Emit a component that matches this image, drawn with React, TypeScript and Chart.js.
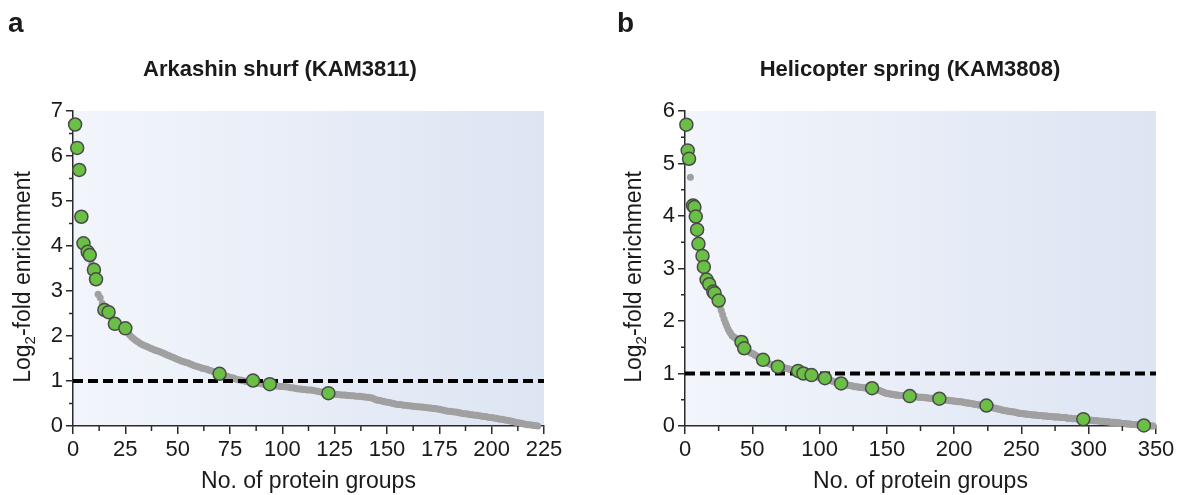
import React, { useEffect, useRef } from "react";
import { Chart, registerables } from "chart.js";

Chart.register(...registerables);

const FONT = "'Liberation Sans', Arial, Helvetica, sans-serif";

// ---------------- Panel a data (Arkashin shurf, KAM3811) ----------------
const grayA: number[] = [
  6.70, 6.18, 5.69, 4.65, 4.06, 3.95, 3.87, 3.80, 3.60, 3.47,
  3.26, 2.93, 2.85, 2.72, 2.58, 2.56, 2.53, 2.45, 2.36, 2.27,
  2.24, 2.22, 2.20, 2.18, 2.17, 2.10, 2.03, 1.98, 1.94, 1.90,
  1.87, 1.84, 1.81, 1.79, 1.77, 1.75, 1.73, 1.71, 1.69, 1.67,
  1.66, 1.64, 1.62, 1.60, 1.58, 1.56, 1.54, 1.52, 1.50, 1.48,
  1.46, 1.44, 1.43, 1.41, 1.40, 1.38, 1.36, 1.34, 1.33, 1.31,
  1.30, 1.28, 1.27, 1.26, 1.24, 1.23, 1.21, 1.20, 1.18, 1.16,
  1.15, 1.13, 1.11, 1.10, 1.08, 1.07, 1.06, 1.04, 1.03, 1.02,
  1.01, 1.00, 0.99, 0.98, 0.98, 0.97, 0.96, 0.95, 0.95, 0.94,
  0.93, 0.92, 0.91, 0.91, 0.90, 0.90, 0.89, 0.89, 0.88, 0.88,
  0.87, 0.87, 0.86, 0.85, 0.85, 0.84, 0.83, 0.82, 0.82, 0.81,
  0.81, 0.80, 0.80, 0.80, 0.79, 0.78, 0.77, 0.76, 0.75, 0.74,
  0.74, 0.73, 0.72, 0.71, 0.71, 0.70, 0.70, 0.69, 0.69, 0.69,
  0.68, 0.68, 0.67, 0.67, 0.66, 0.66, 0.66, 0.65, 0.65, 0.64,
  0.64, 0.63, 0.62, 0.60, 0.58, 0.57, 0.56, 0.55, 0.54, 0.53,
  0.52, 0.51, 0.50, 0.49, 0.48, 0.48, 0.47, 0.46, 0.46, 0.45,
  0.45, 0.44, 0.44, 0.43, 0.43, 0.42, 0.42, 0.41, 0.41, 0.40,
  0.40, 0.39, 0.39, 0.38, 0.37, 0.36, 0.35, 0.34, 0.33, 0.33,
  0.32, 0.31, 0.31, 0.30, 0.29, 0.28, 0.27, 0.27, 0.26, 0.25,
  0.25, 0.24, 0.24, 0.23, 0.22, 0.21, 0.21, 0.20, 0.19, 0.19,
  0.18, 0.17, 0.16, 0.15, 0.15, 0.14, 0.13, 0.12, 0.11, 0.10,
  0.09, 0.08, 0.07, 0.06, 0.05, 0.04, 0.03, 0.03, 0.02, 0.01,
  0.01, 0.00,
];
const greenAX: number[] = [1, 2, 3, 4, 5, 7, 8, 10, 11, 15, 17, 20, 25, 70, 86, 94, 122];
const greenAY: number[] = [6.70, 6.18, 5.69, 4.65, 4.06, 3.87, 3.80, 3.47, 3.26, 2.58, 2.53, 2.27, 2.17, 1.16, 1.01, 0.93, 0.73];

// ---------------- Panel b data (Helicopter spring, KAM3808) ----------------
const grayB: number[] = [
  5.74, 5.25, 5.09, 4.74, 4.25, 4.20, 4.17, 3.99, 3.74, 3.55,
  3.47, 3.35, 3.24, 3.03, 2.90, 2.79, 2.74, 2.70, 2.65, 2.60,
  2.56, 2.53, 2.48, 2.43, 2.39, 2.28, 2.20, 2.12, 2.04, 1.97,
  1.91, 1.85, 1.80, 1.76, 1.72, 1.70, 1.68, 1.66, 1.64, 1.62,
  1.61, 1.60, 1.55, 1.48, 1.46, 1.44, 1.42, 1.41, 1.39, 1.38,
  1.37, 1.35, 1.34, 1.32, 1.30, 1.29, 1.27, 1.26, 1.24, 1.22,
  1.21, 1.19, 1.18, 1.17, 1.16, 1.15, 1.14, 1.14, 1.13, 1.13,
  1.12, 1.12, 1.11, 1.11, 1.10, 1.09, 1.09, 1.08, 1.07, 1.07,
  1.06, 1.06, 1.05, 1.05, 1.04, 1.03, 1.02, 1.00, 0.99, 0.99,
  0.98, 0.98, 0.97, 0.97, 0.96, 0.96, 0.95, 0.94, 0.93, 0.93,
  0.92, 0.92, 0.91, 0.91, 0.90, 0.89, 0.88, 0.87, 0.86, 0.85,
  0.84, 0.84, 0.83, 0.82, 0.81, 0.81, 0.80, 0.79, 0.79, 0.78,
  0.78, 0.77, 0.77, 0.76, 0.76, 0.75, 0.75, 0.75, 0.74, 0.74,
  0.74, 0.73, 0.73, 0.73, 0.72, 0.72, 0.72, 0.72, 0.72, 0.71,
  0.71, 0.70, 0.69, 0.68, 0.67, 0.66, 0.65, 0.64, 0.63, 0.62,
  0.62, 0.61, 0.61, 0.60, 0.60, 0.59, 0.59, 0.59, 0.58, 0.58,
  0.58, 0.58, 0.57, 0.57, 0.57, 0.57, 0.57, 0.56, 0.56, 0.56,
  0.56, 0.56, 0.55, 0.55, 0.55, 0.55, 0.55, 0.54, 0.54, 0.54,
  0.53, 0.53, 0.53, 0.53, 0.52, 0.52, 0.52, 0.52, 0.51, 0.51,
  0.51, 0.50, 0.50, 0.49, 0.49, 0.49, 0.48, 0.48, 0.48, 0.47,
  0.47, 0.47, 0.46, 0.46, 0.46, 0.46, 0.45, 0.45, 0.44, 0.44,
  0.44, 0.43, 0.43, 0.42, 0.42, 0.41, 0.41, 0.40, 0.40, 0.40,
  0.39, 0.39, 0.38, 0.38, 0.37, 0.37, 0.36, 0.36, 0.35, 0.34,
  0.34, 0.33, 0.32, 0.32, 0.31, 0.30, 0.30, 0.29, 0.29, 0.28,
  0.28, 0.27, 0.27, 0.27, 0.26, 0.26, 0.25, 0.25, 0.24, 0.24,
  0.24, 0.23, 0.23, 0.23, 0.22, 0.22, 0.22, 0.21, 0.21, 0.21,
  0.21, 0.20, 0.20, 0.20, 0.20, 0.19, 0.19, 0.19, 0.19, 0.18,
  0.18, 0.18, 0.18, 0.17, 0.17, 0.17, 0.17, 0.17, 0.16, 0.16,
  0.16, 0.16, 0.16, 0.15, 0.15, 0.15, 0.15, 0.14, 0.14, 0.14,
  0.14, 0.14, 0.13, 0.13, 0.13, 0.13, 0.12, 0.12, 0.12, 0.12,
  0.11, 0.11, 0.11, 0.10, 0.10, 0.10, 0.10, 0.09, 0.09, 0.09,
  0.09, 0.08, 0.08, 0.08, 0.08, 0.07, 0.07, 0.07, 0.07, 0.06,
  0.06, 0.06, 0.06, 0.05, 0.05, 0.05, 0.05, 0.04, 0.04, 0.04,
  0.04, 0.03, 0.03, 0.03, 0.03, 0.02, 0.02, 0.02, 0.02, 0.01,
  0.01, 0.01, 0.01, 0.01, 0.00, 0.00, 0.00, 0.00,
];
const greenBX: number[] = [1, 2, 3, 6, 7, 8, 9, 10, 13, 14, 16, 18, 21, 22, 25, 42, 44, 58, 69, 84, 88, 94, 104, 116, 139, 167, 189, 224, 296, 341];
const greenBY: number[] = [5.74, 5.25, 5.09, 4.20, 4.17, 3.99, 3.74, 3.47, 3.24, 3.03, 2.79, 2.70, 2.56, 2.53, 2.39, 1.60, 1.48, 1.26, 1.13, 1.05, 1.00, 0.97, 0.91, 0.81, 0.72, 0.57, 0.52, 0.39, 0.13, 0.01];

// ---------------- Shared labels ----------------
const THRESHOLD = 1;
const X_TITLE = "No. of protein groups";
const Y_TITLE_PARTS = ["Log", "2", "-fold enrichment"];
const TITLE_A = "Arkashin shurf (KAM3811)";
const TITLE_B = "Helicopter spring (KAM3808)";

const GRAY = "rgb(160,160,160)";
const GREEN = "#6abf45";
const AXIS = "#2a2a2a";
const TEXT = "#1a1a1a";

const bgPlugin = {
  id: "bgGradient",
  beforeDraw(chart: any, _args: any, opts: any) {
    const { ctx, chartArea: a } = chart;
    if (!a) return;
    const g = ctx.createLinearGradient(a.left, 0, a.right, 0);
    g.addColorStop(0, opts.from);
    g.addColorStop(1, opts.to);
    ctx.save();
    ctx.fillStyle = g;
    ctx.fillRect(a.left, a.top, a.right - a.left, a.bottom - a.top);
    ctx.restore();
  },
};

const minorTicksPlugin = {
  id: "minorTicks",
  afterDraw(chart: any, _args: any, opts: any) {
    const { ctx, chartArea: a, scales } = chart;
    ctx.save();
    ctx.strokeStyle = AXIS;
    ctx.lineWidth = 1.5;
    const xs = scales.x;
    for (let v = opts.x; v < xs.max; v += opts.x * 2) {
      const px = xs.getPixelForValue(v);
      ctx.beginPath();
      ctx.moveTo(px, a.bottom);
      ctx.lineTo(px, a.bottom + opts.xLen);
      ctx.stroke();
    }
    const ys = scales.y;
    for (let v = opts.y; v < ys.max; v += opts.y * 2) {
      const py = ys.getPixelForValue(v);
      ctx.beginPath();
      ctx.moveTo(a.left, py);
      ctx.lineTo(a.left - opts.yLen, py);
      ctx.stroke();
    }
    ctx.restore();
  },
};

const textPlugin = {
  id: "panelText",
  afterDraw(chart: any, _args: any, opts: any) {
    const { ctx } = chart;
    ctx.save();
    ctx.fillStyle = TEXT;
    ctx.textBaseline = "alphabetic";
    // panel letter
    ctx.font = `bold 28px ${FONT}`;
    ctx.textAlign = "left";
    ctx.fillText(opts.letter, opts.letterX, opts.letterY);
    // title
    ctx.font = `bold 22px ${FONT}`;
    ctx.textAlign = "center";
    ctx.fillText(opts.title, opts.titleX, opts.titleY);
    // y title with subscript
    const big = `23px ${FONT}`;
    const small = `15px ${FONT}`;
    ctx.font = big;
    const w1 = ctx.measureText(Y_TITLE_PARTS[0]).width;
    const w3 = ctx.measureText(Y_TITLE_PARTS[2]).width;
    ctx.font = small;
    const w2 = ctx.measureText(Y_TITLE_PARTS[1]).width;
    const total = w1 + w2 + w3;
    ctx.translate(opts.yTitleX, opts.yTitleY);
    ctx.rotate(-Math.PI / 2);
    ctx.textAlign = "left";
    let s = -total / 2;
    ctx.font = big;
    ctx.fillText(Y_TITLE_PARTS[0], s, 0);
    s += w1;
    ctx.font = small;
    ctx.fillText(Y_TITLE_PARTS[1], s, 5);
    s += w2;
    ctx.font = big;
    ctx.fillText(Y_TITLE_PARTS[2], s, 0);
    ctx.restore();
  },
};

type PanelProps = {
  letter: string;
  title: string;
  gray: number[];
  greenX: number[];
  greenY: number[];
  xMax: number;
  xStep: number;
  yMax: number;
  areaLeft: number;
  rightPad: number;
  titleX: number;
  yTitleX: number;
  letterX: number;
};

function Panel(p: PanelProps) {
  const ref = useRef<HTMLCanvasElement | null>(null);
  useEffect(() => {
    if (!ref.current) return;
    const grid = (len: number) => ({
      display: true,
      drawOnChartArea: false,
      drawTicks: true,
      tickLength: len,
      color: AXIS,
      lineWidth: 1.5,
    });
    const chart = new Chart(ref.current, {
      type: "scatter",
      data: {
        datasets: [
          {
            label: "highlighted",
            data: p.greenX.map((x, i) => ({ x, y: p.greenY[i] })),
            pointRadius: 6.5,
            pointHoverRadius: 6.5,
            backgroundColor: GREEN,
            borderColor: "#4a4a4a",
            borderWidth: 1.5,
            clip: false,
            order: 0,
          } as any,
          {
            label: "threshold",
            data: [
              { x: 0, y: THRESHOLD },
              { x: p.xMax, y: THRESHOLD },
            ],
            showLine: true,
            borderColor: "#000",
            borderWidth: 4,
            borderDash: [10, 5],
            pointRadius: 0,
            order: 1,
          } as any,
          {
            label: "all",
            data: p.gray.map((y, i) => ({ x: i + 1, y })),
            pointRadius: 3.5,
            pointHoverRadius: 3.5,
            backgroundColor: GRAY,
            borderWidth: 0,
            clip: false,
            order: 2,
          } as any,
        ],
      },
      options: {
        animation: false,
        responsive: false,
        events: [],
        layout: { padding: { left: 0, top: 111, right: p.rightPad, bottom: 0 } },
        plugins: {
          legend: { display: false },
          tooltip: { enabled: false },
          title: { display: false },
          bgGradient: { from: "#f2f5fb", to: "#dde5f3" },
          minorTicks: { x: p.xStep / 2, y: 0.5, xLen: 5, yLen: 4 },
          panelText: {
            letter: p.letter,
            letterX: p.letterX,
            letterY: 32,
            title: p.title,
            titleX: p.titleX,
            titleY: 76,
            yTitleX: p.yTitleX,
            yTitleY: 277,
          },
        } as any,
        scales: {
          x: {
            type: "linear",
            min: 0,
            max: p.xMax,
            ticks: {
              stepSize: p.xStep,
              color: TEXT,
              font: { size: 22, family: FONT },
              padding: 3,
              maxRotation: 0,
              autoSkip: false,
            },
            grid: grid(8),
            border: { display: true, color: AXIS, width: 1.5 },
            title: {
              display: true,
              text: X_TITLE,
              color: TEXT,
              font: { size: 23, family: FONT },
              padding: { top: 0, bottom: 0 },
            },
            afterFit: (s: any) => {
              s.height = 69;
            },
          },
          y: {
            type: "linear",
            min: 0,
            max: p.yMax,
            ticks: {
              stepSize: 1,
              color: TEXT,
              font: { size: 22, family: FONT },
              padding: 3,
            },
            grid: grid(7),
            border: { display: true, color: AXIS, width: 1.5 },
            afterFit: (s: any) => {
              s.width = p.areaLeft;
            },
          },
        },
      } as any,
      plugins: [bgPlugin, minorTicksPlugin, textPlugin],
    });
    return () => chart.destroy();
  }, []);
  return <canvas ref={ref} width={591} height={495} style={{ display: "block", width: 591, height: 495 }} />;
}

export default function App() {
  return (
    <div style={{ position: "absolute", left: 0, top: 0, width: 1182, height: 495, display: "flex", background: "#fff" }}>
      <Panel
        letter="a"
        title={TITLE_A}
        gray={grayA}
        greenX={greenAX}
        greenY={greenAY}
        xMax={225}
        xStep={25}
        yMax={7}
        areaLeft={73}
        rightPad={47}
        titleX={280}
        yTitleX={30}
        letterX={8}
      />
      <Panel
        letter="b"
        title={TITLE_B}
        gray={grayB}
        greenX={greenBX}
        greenY={greenBY}
        xMax={350}
        xStep={50}
        yMax={6}
        areaLeft={94}
        rightPad={26}
        titleX={319}
        yTitleX={50}
        letterX={26}
      />
    </div>
  );
}
